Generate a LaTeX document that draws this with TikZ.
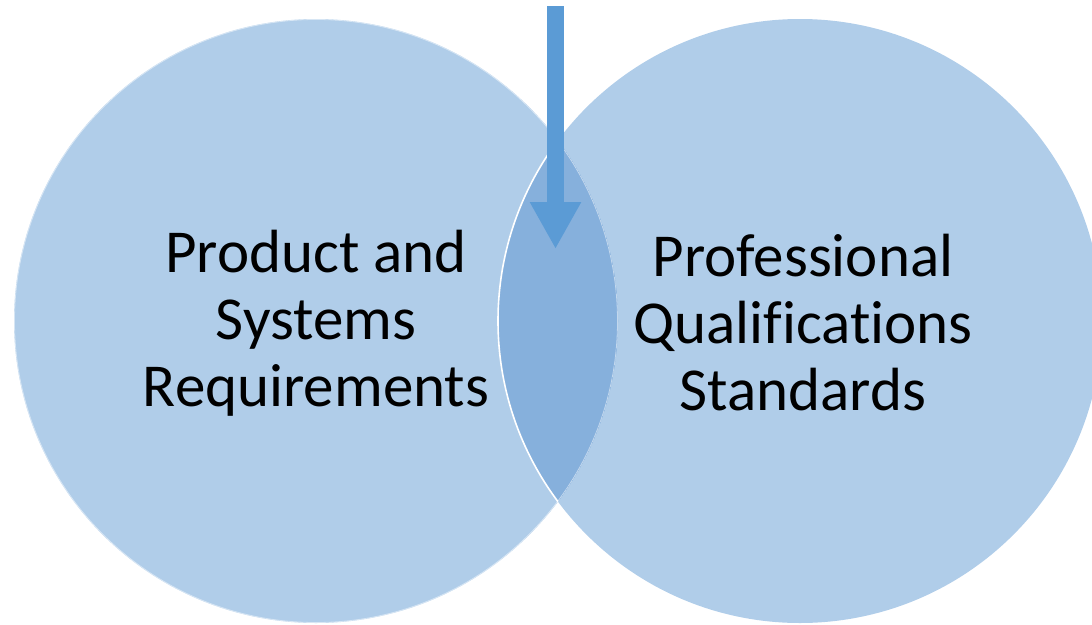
\documentclass[tikz,border=0pt]{standalone}
\usepackage{fontspec}
\setmainfont{Carlito}[Ligatures=NoCommon]
\usetikzlibrary{arrows.meta}
\definecolor{circfill}{HTML}{B0CDE9}
\definecolor{lensfill}{HTML}{86B0DC}
\definecolor{arrowblue}{HTML}{5B9BD5}
\tikzset{
  venn/.style={circle, minimum size=604pt, inner sep=0pt, fill=circfill},
  vtext/.style={align=center, font=\fontsize{61}{67}\selectfont, text=black},
  bigarrow/.style={draw=arrowblue, line width=17pt, -{Triangle[width=48pt,length=47pt]}}
}
\begin{document}
\begin{tikzpicture}[x=1pt,y=-1pt]
\useasboundingbox (0,0) rectangle (1092,624);
\node[venn] (L) at (316,321) {};
\node[venn] (R) at (800,321) {};
\begin{scope}
  \clip (L.center) circle[radius=302pt];
  \fill[lensfill] (R.center) circle[radius=302pt];
  \draw[white, line width=1.6pt] (R.center) circle[radius=302pt];
  \draw[white, opacity=0.5, line width=0.8pt] (L.center) circle[radius=301.5pt];
\end{scope}
\node[vtext] (Lt) at (316,323) {Product and\\Systems\\Requirements};
\node[vtext] (Rt) at (803,323) {Professional\\Qualifications\\Standards};
\coordinate (top) at (555.5,6);
\coordinate (tip) at (555.5,249);
\draw[bigarrow] (top) -- (tip);
\end{tikzpicture}
\end{document}
